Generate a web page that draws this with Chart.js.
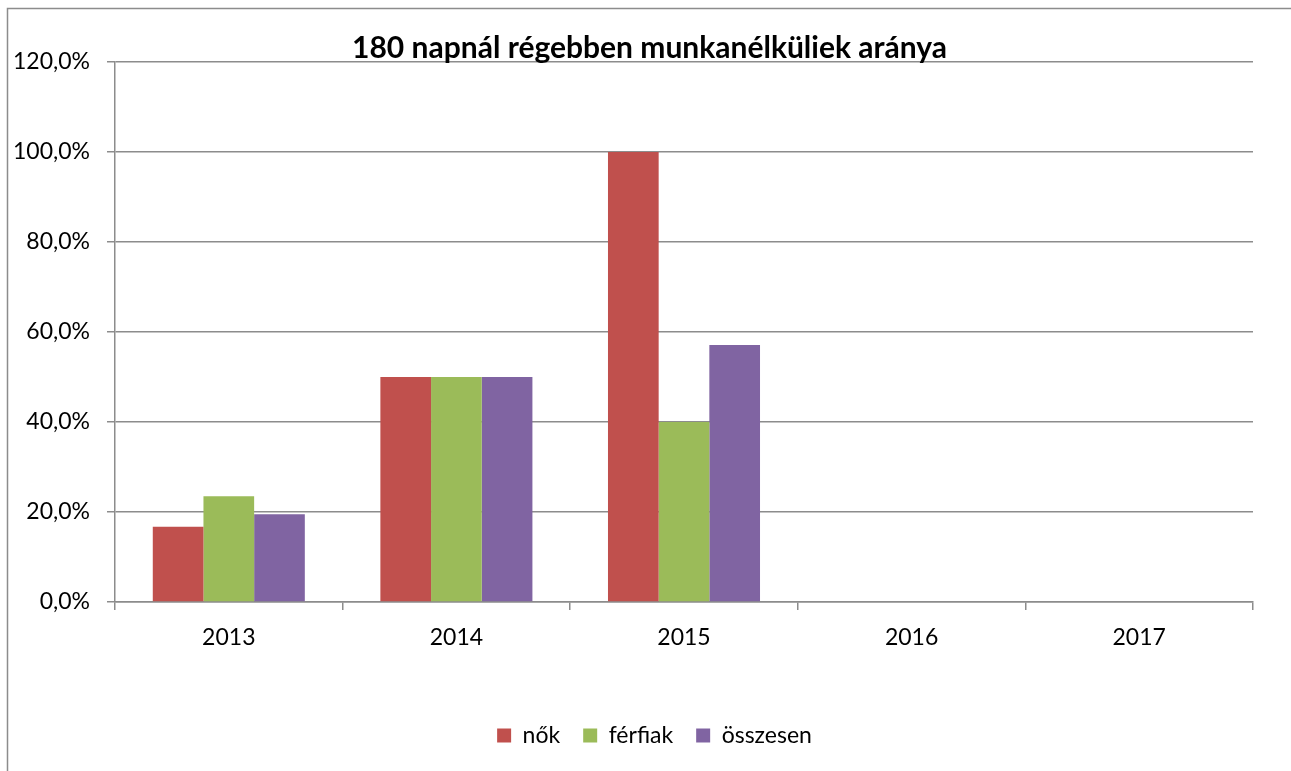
<!DOCTYPE html>
<html>
<head>
<meta charset="utf-8">
<script src="https://cdn.jsdelivr.net/npm/chart.js@4"></script>
<style>
html,body{margin:0;padding:0;background:#fff;}
#wrap{position:absolute;left:0;top:0;width:1291px;height:771px;}
</style>
</head>
<body>
<div id="wrap"><canvas id="c" width="1291" height="771"></canvas></div>
<script>
const titleText = '180 napnál régebben munkanélküliek aránya';
const categories = ['2013', '2014', '2015', '2016', '2017'];
const seriesNames = ['nők', 'férfiak', 'összesen'];
const nok = [16.7, 50.0, 100.0, null, null];
const ferfiak = [23.5, 50.0, 40.0, null, null];
const osszesen = [19.5, 50.0, 57.1, null, null];
const yTicks = [0, 20, 40, 60, 80, 100, 120];
const colors = ['#C0504D', '#9BBB59', '#8064A2'];

const FONT = 'Lato, "Open Sans", sans-serif';

const borderPlugin = {
  id: 'outerBorder',
  afterLayout(chart) {
    if (chart.legend) {
      chart.legend.left += 22;
      chart.legend.right += 22;
    }
  },
  beforeDraw(chart) {
    const ctx = chart.ctx;
    ctx.save();
    ctx.fillStyle = '#fff';
    ctx.fillRect(0, 0, chart.width, chart.height);
    ctx.strokeStyle = '#8c8c8c';
    ctx.lineWidth = 1.5;
    ctx.beginPath();
    ctx.moveTo(7.5, chart.height);
    ctx.lineTo(7.5, 8.5);
    ctx.lineTo(chart.width, 8.5);
    ctx.stroke();
    ctx.restore();
  },
  afterDraw(chart) {
    const ctx = chart.ctx;
    ctx.save();
    ctx.fillStyle = '#000';
    ctx.font = 'bold 30px ' + FONT;
    ctx.textAlign = 'center';
    ctx.textBaseline = 'middle';
    ctx.fillText(titleText, 649.5, 48);
    ctx.restore();
  }
};

new Chart(document.getElementById('c'), {
  type: 'bar',
  data: {
    labels: categories,
    datasets: [
      { label: seriesNames[0], data: nok, backgroundColor: colors[0] },
      { label: seriesNames[1], data: ferfiak, backgroundColor: colors[1] },
      { label: seriesNames[2], data: osszesen, backgroundColor: colors[2] }
    ]
  },
  options: {
    responsive: false,
    animation: false,
    devicePixelRatio: 1,
    layout: { padding: { left: 12, right: 38, top: 62, bottom: 14 } },
    datasets: { bar: { categoryPercentage: 0.668, barPercentage: 1.0 } },
    plugins: {
      title: { display: false },
      legend: {
        position: 'bottom',
        labels: {
          color: '#000',
          boxWidth: 14,
          boxHeight: 14,
          padding: 23,
          font: { family: FONT, size: 23 }
        }
      },
      tooltip: { enabled: false }
    },
    scales: {
      x: {
        grid: { display: true, drawOnChartArea: false, drawTicks: true, tickLength: 8, color: '#8c8c8c', lineWidth: 1.5, offset: true },
        border: { display: true, color: '#8c8c8c', width: 1.5 },
        ticks: { color: '#000', padding: 14, font: { family: FONT, size: 23 } },
        afterFit: s => { s.height = 99; }
      },
      y: {
        min: 0,
        max: 120,
        afterBuildTicks: s => { s.ticks = yTicks.map(v => ({ value: v })); },
        grid: { color: '#8c8c8c', lineWidth: 1.5, tickLength: 8, drawTicks: true },
        border: { display: true, color: '#8c8c8c', width: 1.5 },
        ticks: {
          color: '#000',
          padding: 17,
          font: { family: FONT, size: 23 },
          callback: v => v.toFixed(1).replace('.', ',') + '%'
        },
        afterFit: s => { s.width = 103; }
      }
    }
  },
  plugins: [borderPlugin]
});
</script>
</body>
</html>
